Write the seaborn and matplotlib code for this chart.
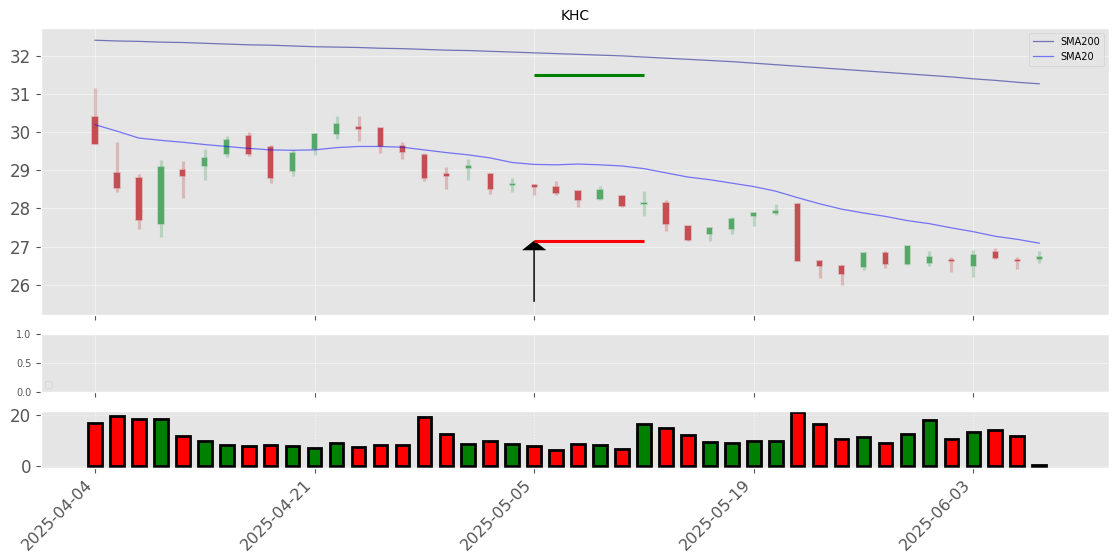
import numpy as np
import matplotlib
matplotlib.use("Agg")
import matplotlib.pyplot as plt
import seaborn as sns

plt.style.use("ggplot")
plt.rcParams["grid.alpha"] = 0.45

# OHLC (one row per trading day, index based x axis)
opens = [30.40, 28.92, 28.79, 27.59, 29.01, 29.11, 29.42, 29.90, 29.61, 28.98,
         29.55, 29.94, 30.14, 30.10, 29.63, 29.40, 28.91, 29.06, 28.90, 28.61,
         28.60, 28.56, 28.46, 28.24, 28.33, 28.11, 28.15, 27.54, 27.33, 27.46,
         27.80, 27.88, 28.12, 26.63, 26.49, 26.46, 26.83, 26.54, 26.57, 26.65,
         26.49, 26.86, 26.66, 26.67]
highs = [31.16, 29.73, 28.89, 29.26, 29.24, 29.55, 29.89, 30.01, 29.66, 29.54,
         29.96, 30.42, 30.42, 30.11, 29.73, 29.45, 29.09, 29.29, 28.92, 28.79,
         28.63, 28.71, 28.48, 28.59, 28.35, 28.45, 28.21, 27.55, 27.52, 27.77,
         27.90, 28.12, 28.13, 26.64, 26.51, 26.85, 26.89, 27.02, 26.88, 26.72,
         26.91, 26.96, 26.73, 26.89]
lows = [29.68, 28.43, 27.46, 27.26, 28.27, 28.74, 29.34, 29.36, 28.66, 28.84,
        29.40, 29.81, 29.76, 29.45, 29.28, 28.71, 28.50, 28.74, 28.37, 28.43,
        28.35, 28.35, 28.03, 28.21, 28.03, 27.80, 27.40, 27.15, 27.14, 27.32,
        27.54, 27.82, 26.61, 26.17, 25.99, 26.38, 26.43, 26.53, 26.48, 26.33,
        26.20, 26.68, 26.41, 26.57]
closes = [29.68, 28.53, 27.69, 29.08, 28.84, 29.32, 29.79, 29.42, 28.79, 29.46,
          29.95, 30.21, 30.08, 29.63, 29.48, 28.79, 28.86, 29.11, 28.51, 28.64,
          28.57, 28.41, 28.22, 28.49, 28.05, 28.15, 27.59, 27.16, 27.49, 27.73,
          27.88, 27.92, 26.61, 26.48, 26.28, 26.83, 26.54, 27.01, 26.72, 26.61,
          26.78, 26.70, 26.61, 26.73]
volume = [17.0, 19.6, 18.3, 18.6, 11.9, 9.9, 8.2, 7.8, 8.2, 7.8,
          7.2, 9.2, 7.6, 8.2, 8.2, 19.2, 12.7, 8.6, 9.8, 8.6,
          7.8, 6.4, 8.8, 8.4, 6.8, 16.6, 15.0, 12.3, 9.5, 9.2,
          9.9, 9.9, 21.4, 16.6, 10.5, 11.5, 9.2, 12.7, 17.9, 10.7,
          13.3, 14.2, 11.9, 0.6]
sma20 = [30.19, 30.02, 29.84, 29.78, 29.73, 29.67, 29.62, 29.57, 29.53, 29.52,
         29.53, 29.59, 29.62, 29.62, 29.60, 29.53, 29.46, 29.40, 29.32, 29.20,
         29.15, 29.14, 29.16, 29.14, 29.11, 29.04, 28.93, 28.82, 28.75, 28.66,
         28.57, 28.45, 28.28, 28.12, 27.98, 27.88, 27.79, 27.68, 27.60, 27.49,
         27.39, 27.27, 27.19, 27.09]
sma200 = [32.40, 32.38, 32.37, 32.35, 32.34, 32.32, 32.30, 32.28, 32.27, 32.25,
          32.23, 32.22, 32.21, 32.19, 32.18, 32.16, 32.14, 32.13, 32.11, 32.09,
          32.07, 32.05, 32.03, 32.01, 31.99, 31.96, 31.93, 31.90, 31.87, 31.84,
          31.80, 31.76, 31.72, 31.68, 31.64, 31.60, 31.56, 31.52, 31.48, 31.44,
          31.39, 31.35, 31.30, 31.26]

tick_pos = [0, 10, 20, 30, 40]
tick_labels = ["2025-04-04", "2025-04-21", "2025-05-05", "2025-05-19", "2025-06-03"]

# buy signal
signal_start = 20
signal_end = 25
entry_price = 27.15
target_price = 31.48
arrow_base = 25.56

opens = np.array(opens)
closes = np.array(closes)
x = np.arange(len(opens))
up = closes >= opens

deep = sns.color_palette("deep")
up_c, dn_c = deep[2], deep[3]
candle_cols = [up_c if u else dn_c for u in up]
edge_cols = [(c[0], c[1], c[2], 0.35) for c in candle_cols]

fig = plt.figure(figsize=(11.2, 5.6), dpi=100)
ax1 = fig.add_axes([0.0366, 0.4375, 0.9536, 0.5125])
ax2 = fig.add_axes([0.0366, 0.300, 0.9536, 0.1036], sharex=ax1)
ax3 = fig.add_axes([0.0366, 0.165, 0.9536, 0.101], sharex=ax1)

# candles
ax1.vlines(x, lows, highs, colors=candle_cols, alpha=0.3, linewidth=2.3)
body_bottom = np.minimum(opens, closes)
body_h = np.maximum(np.abs(closes - opens), 0.03)
ax1.bar(x, body_h, bottom=body_bottom, width=0.24, color=candle_cols,
        edgecolor=edge_cols, linewidth=1.2)

sns.lineplot(x=x, y=sma200, ax=ax1, color="darkblue", alpha=0.5, linewidth=0.9, label="SMA200")
sns.lineplot(x=x, y=sma20, ax=ax1, color="blue", alpha=0.5, linewidth=0.9, label="SMA20")

ax1.hlines(entry_price, signal_start, signal_end, color="red", linewidth=2.2)
ax1.hlines(target_price, signal_start, signal_end, color="green", linewidth=2.2)
ax1.arrow(signal_start, arrow_base, 0, entry_price - arrow_base, width=0.05,
          head_width=1.05, head_length=0.24, length_includes_head=True,
          fc="black", ec="black", linewidth=0.3)

ax1.set_title("KHC", fontsize=10)
ax1.legend(loc="upper right", fontsize=7)
ax1.set_ylim(25.21, 32.72)
ax1.set_yticks([26, 27, 28, 29, 30, 31, 32])
ax1.tick_params(axis="y", labelsize=12)
ax1.tick_params(axis="x", labelbottom=False)
ax1.set_xlabel("")
ax1.set_ylabel("")

# empty middle panel
ax2.set_ylim(0, 1)
ax2.set_yticks([0, 0.5, 1.0])
ax2.tick_params(axis="y", labelsize=7)
ax2.tick_params(axis="x", labelbottom=False)
ax2.legend(handles=[], loc="lower left", fontsize=6)

# volume
vol_dir = ["up" if u else "down" for u in up]
sns.barplot(x=x, y=volume, hue=vol_dir, palette={"up": "green", "down": "red"},
            native_scale=True, dodge=False, width=0.62, saturation=1,
            edgecolor="black", linewidth=2, errorbar=None, legend=False, ax=ax3)
ax3.grid(True, linestyle=":", alpha=0.6)
ax3.set_ylim(-0.6, 21.6)
ax3.set_yticks([0, 20])
ax3.tick_params(axis="y", labelsize=12)
ax3.set_xlabel("")
ax3.set_ylabel("")

ax3.set_xticks(tick_pos)
ax3.set_xticklabels(tick_labels, rotation=45, ha="right", fontsize=11.5)
ax1.set_xlim(-2.46, 46.18)

fig.savefig("out.png", dpi=100)
